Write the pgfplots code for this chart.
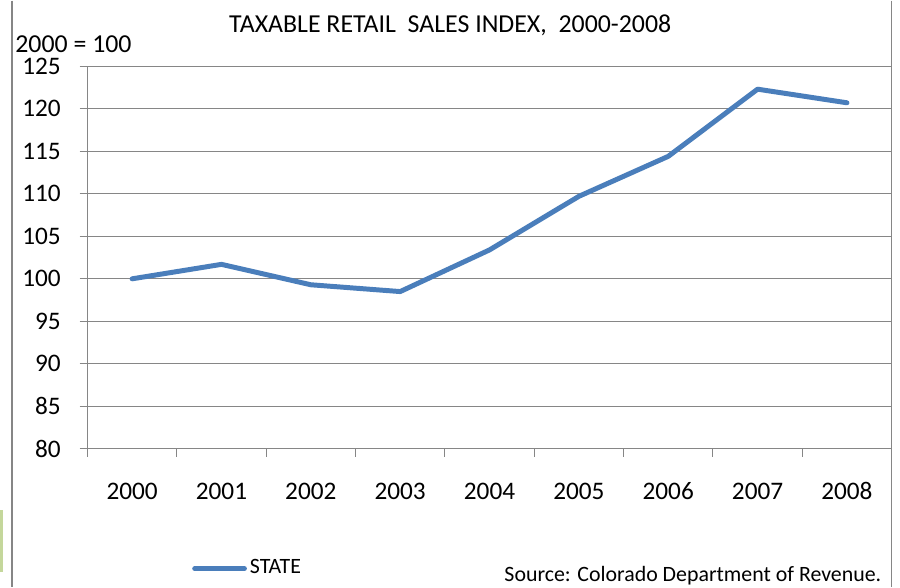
\documentclass[border=0pt]{standalone}
\usepackage{fontspec}
\setmainfont{Carlito}
\usepackage{pgfplots}
\pgfplotsset{compat=1.18}
\definecolor{seriesblue}{RGB}{74,126,187}
\definecolor{gridgray}{RGB}{134,134,134}
\definecolor{boxgreen}{RGB}{196,215,155}

\begin{document}
\fontsize{12.7}{15}\selectfont
\begin{tikzpicture}
% white page, 900x590 px at 0.5pt per px, origin at the plot box corner
\fill[white] (-44pt,-69.5pt) rectangle (406pt,225.5pt);
\draw[gridgray, line width=0.6pt] (-38pt,225.5pt) -- (-38pt,-69.5pt);
\draw[gridgray, line width=0.6pt] (404.5pt,225.5pt) -- (404.5pt,-69.5pt);
\fill[boxgreen] (-44pt,-30.5pt) rectangle (-42.5pt,-62pt);
\begin{axis}[
    at={(0,0)}, anchor=south west,
    scale only axis, width=404.5pt, height=192.5pt,
    xmin=-0.5, xmax=8.5, ymin=80, ymax=125,
    axis x line*=bottom, axis y line*=left,
    axis line style={draw=gridgray, line width=0.6pt, -},
    xtick={-0.5,0.5,...,8.5}, xticklabels={},
    extra x ticks={0,1,...,8},
    extra x tick labels={2000,2001,2002,2003,2004,2005,2006,2007,2008},
    extra x tick style={major tick length=0pt,
        xticklabel style={anchor=base, yshift=-25.5pt}},
    ytick={80,85,...,125},
    ymajorgrids, grid style={gridgray, line width=0.6pt},
    tick align=outside, major tick length=4pt,
    tick style={gridgray, line width=0.6pt},
    yticklabel style={xshift=-5pt},
    ticklabel style={font=\fontsize{12.7}{15}\selectfont},
    /pgf/number format/assume math mode=true,
    clip=false,
    legend style={at={(0.1298,-0.313)}, anchor=west, draw=none, fill=none,
        inner sep=0pt, font=\fontsize{11}{13}\selectfont,
        nodes={inner sep=1.5pt}},
    legend image code/.code={\draw[#1] (0pt,0pt) -- (25pt,0pt);},
]
\addplot[seriesblue, line width=2.5pt, line join=round, line cap=round]
    coordinates {(0,100.0) (1,101.7) (2,99.3) (3,98.5) (4,103.4)
                 (5,109.7) (6,114.4) (7,122.3) (8,120.7)};
\addlegendentry{STATE}
\end{axis}
\node[anchor=base, inner sep=0pt, font=\fontsize{13}{15}\selectfont]
    at (182.5pt,209.6pt) {TAXABLE RETAIL\ \ SALES INDEX,\ \ 2000-2008};
\node[anchor=base west, inner sep=0pt, font=\fontsize{13}{15}\selectfont]
    at (-36.5pt,199.6pt) {2000 = 100};
\node[anchor=base east, inner sep=0pt, font=\fontsize{11}{13}\selectfont]
    at (399.5pt,-66.5pt) {Source: Colorado Department of Revenue.};
\end{tikzpicture}
\end{document}
